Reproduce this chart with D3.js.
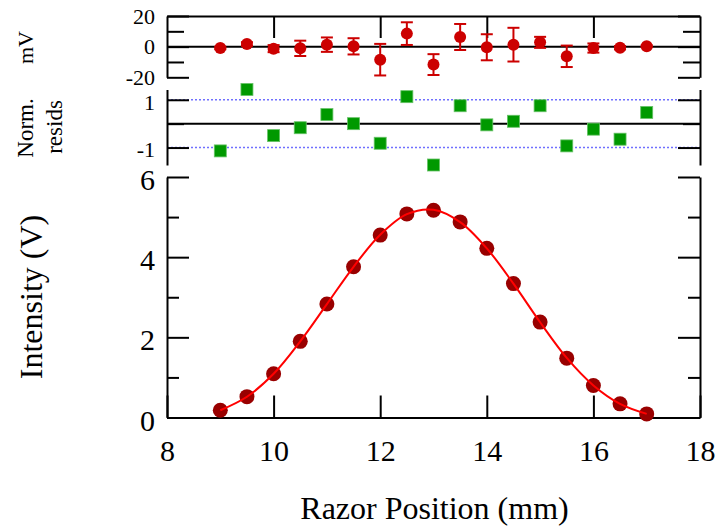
<!DOCTYPE html>
<html>
<head>
<meta charset="utf-8">
<script src="https://cdn.jsdelivr.net/npm/d3@7"></script>
<style>
  body { margin: 0; background: #fff; }
  text { font-family: "Liberation Serif", serif; fill: #000; }
</style>
</head>
<body>
<script>
// razor positions (mm)
const positions = [9, 9.5, 10, 10.5, 11, 11.5, 12, 12.5, 13, 13.5, 14, 14.5, 15, 15.5, 16, 16.5, 17];
// measured intensity (V)
const intensity = [0.18, 0.52, 1.09, 1.90, 2.83, 3.76, 4.55, 5.08, 5.17, 4.88, 4.22, 3.34, 2.38, 1.48, 0.80, 0.34, 0.09];
// fitted curve (V) at each position
const fitted = [0.181, 0.518, 1.091, 1.901, 2.829, 3.760, 4.558, 5.072, 5.182, 4.874, 4.220, 3.339, 2.377, 1.486, 0.801, 0.341, 0.090];
// residuals (mV) and their uncertainties (mV)
const residMV = [-0.9, 1.7, -1.3, -1.1, 1.3, 0.2, -8.5, 8.5, -11.7, 6.3, -0.4, 1.3, 2.8, -6.3, -0.9, -0.7, 0.3];
const errMV = [0.8, 1.2, 2.3, 5.0, 4.7, 5.3, 10.3, 7.4, 6.8, 8.5, 8.5, 11.0, 3.6, 7.0, 3.0, 1.1, 0.6];
// normalized residuals
const normResid = [-1.14, 1.43, -0.50, -0.17, 0.38, 0.00, -0.82, 1.13, -1.73, 0.75, -0.05, 0.10, 0.75, -0.93, -0.23, -0.65, 0.47];

const xTicks = [8, 10, 12, 14, 16, 18];
const xInnerTicks = [10, 12, 14, 16];
const mainMajor = [0, 2, 4, 6];
const mainMinor = [1, 3, 5];
const topMajor = [-20, 0, 20];
const topMinor = [-10, 10];
const midMajor = [-1, 1];
const midMinor = [0];

const left = 167, right = 700;

const svg = d3.select('body').append('svg')
    .attr('width', 720)
    .attr('height', 527);

const x = d3.scaleLinear().domain([8, 18]).range([left, right]);
const yMain = d3.scaleLinear().domain([0, 6]).range([417.5, 177]);
const yTop = d3.scaleLinear().domain([-20, 20]).range([77.3, 16]);
const yMid = d3.scaleLinear().domain(d3.extent(normResid)).range([165, 89.5]);

const plain = d => String(d);   // keep the short hyphen on negatives

function styleAxis(g, fs) {
    g.attr('font-family', '"Liberation Serif", serif').attr('font-size', fs);
    g.selectAll('.domain').attr('stroke', '#000').attr('stroke-width', 2);
    g.selectAll('.tick line').attr('stroke', '#000').attr('stroke-width', 2);
    g.selectAll('.tick text').attr('fill', '#000');
}

// y axis pair (left labelled, right plain) with major and minor ticks
function yAxes(scale, major, minor, majLen, minLen, fs, dy) {
    const l = svg.append('g').attr('transform', `translate(${left},0)`)
        .call(d3.axisLeft(scale).tickValues(major).tickSizeInner(-majLen).tickSizeOuter(0).tickPadding(12)
            .tickFormat(plain));
    styleAxis(l, fs);
    l.selectAll('.tick text').attr('dy', dy);
    const lm = svg.append('g').attr('transform', `translate(${left},0)`)
        .call(d3.axisLeft(scale).tickValues(minor).tickSizeInner(-minLen).tickSizeOuter(0).tickFormat(''));
    styleAxis(lm, fs);
    lm.select('.domain').remove();

    const r = svg.append('g').attr('transform', `translate(${right},0)`)
        .call(d3.axisRight(scale).tickValues(major).tickSizeInner(-majLen).tickSizeOuter(0).tickFormat(''));
    styleAxis(r, fs);
    const rm = svg.append('g').attr('transform', `translate(${right},0)`)
        .call(d3.axisRight(scale).tickValues(minor).tickSizeInner(-minLen).tickSizeOuter(0).tickFormat(''));
    styleAxis(rm, fs);
    rm.select('.domain').remove();
}

function hLine(y, stroke, width, dash) {
    svg.append('line')
        .attr('x1', left).attr('x2', right)
        .attr('y1', y).attr('y2', y)
        .attr('stroke', stroke)
        .attr('stroke-width', width)
        .attr('stroke-dasharray', dash || null);
}

// ---- top panel: residuals in mV ----
const topAx = svg.append('g').attr('transform', `translate(0,${yTop(20)})`)
    .call(d3.axisTop(x).tickValues(xInnerTicks).tickSizeInner(-22).tickSizeOuter(0).tickFormat(''));
styleAxis(topAx, 22);
yAxes(yTop, topMajor, topMinor, 22, 17, 22, '0.32em');
hLine(yTop(0), '#000', 2);

const resid = positions.map((p, i) => ({ x: p, r: residMV[i], e: errMV[i] }));
const eb = svg.append('g').attr('stroke', '#cc0000').attr('stroke-width', 2);
resid.forEach(d => {
    eb.append('line').attr('x1', x(d.x)).attr('x2', x(d.x)).attr('y1', yTop(d.r - d.e)).attr('y2', yTop(d.r + d.e));
    eb.append('line').attr('x1', x(d.x) - 6).attr('x2', x(d.x) + 6).attr('y1', yTop(d.r - d.e)).attr('y2', yTop(d.r - d.e));
    eb.append('line').attr('x1', x(d.x) - 6).attr('x2', x(d.x) + 6).attr('y1', yTop(d.r + d.e)).attr('y2', yTop(d.r + d.e));
});
svg.selectAll('.rdot')
    .data(resid)
    .enter().append('circle')
    .attr('class', 'rdot')
    .attr('cx', d => x(d.x))
    .attr('cy', d => yTop(d.r))
    .attr('r', 6)
    .attr('fill', '#cc0000');

// ---- middle panel: normalized residuals ----
hLine(yMid(1), '#7070ff', 1.5, '2,2');
hLine(yMid(-1), '#7070ff', 1.5, '2,2');
yAxes(yMid, midMajor, midMinor, 22, 17, 22, '0.42em');
hLine(yMid(0), '#000', 2);

svg.selectAll('.nsq')
    .data(positions.map((p, i) => ({ x: p, n: normResid[i] })))
    .enter().append('rect')
    .attr('class', 'nsq')
    .attr('x', d => x(d.x) - 6)
    .attr('y', d => yMid(d.n) - 6)
    .attr('width', 12)
    .attr('height', 12)
    .attr('fill', '#009900')
    .attr('stroke', '#66c266')
    .attr('stroke-width', 0.8);

// ---- main panel ----
const bottomAx = svg.append('g').attr('transform', `translate(0,${yMain(0)})`)
    .call(d3.axisBottom(x).tickValues(xTicks).tickSizeInner(-22).tickSizeOuter(0).tickPadding(22));
styleAxis(bottomAx, 30);
yAxes(yMain, mainMajor, mainMinor, 22, 12, 30, '0.42em');

const line = d3.line()
    .x((d, i) => x(positions[i]))
    .y(d => yMain(d))
    .curve(d3.curveCatmullRom);

svg.selectAll('.pt')
    .data(intensity)
    .enter().append('circle')
    .attr('class', 'pt')
    .attr('cx', (d, i) => x(positions[i]))
    .attr('cy', d => yMain(d))
    .attr('r', 7.5)
    .attr('fill', '#990000');

svg.append('path')
    .datum(fitted)
    .attr('fill', 'none')
    .attr('stroke', '#ff0000')
    .attr('stroke-width', 2)
    .attr('d', line);

// ---- axis titles ----
svg.append('text')
    .attr('x', 434.5)
    .attr('y', 519)
    .attr('text-anchor', 'middle')
    .attr('font-size', '32px')
    .text('Razor Position (mm)');

svg.append('text')
    .attr('transform', 'translate(42,297) rotate(-90)')
    .attr('text-anchor', 'middle')
    .attr('font-size', '32px')
    .text('Intensity (V)');

svg.append('text')
    .attr('transform', 'translate(33,47.5) rotate(-90)')
    .attr('text-anchor', 'middle')
    .attr('font-size', '22px')
    .text('mV');

svg.append('text')
    .attr('transform', 'translate(33,128) rotate(-90)')
    .attr('text-anchor', 'middle')
    .attr('font-size', '23px')
    .text('Norm.');

svg.append('text')
    .attr('transform', 'translate(62,127) rotate(-90)')
    .attr('text-anchor', 'middle')
    .attr('font-size', '23px')
    .text('resids');
</script>
</body>
</html>
